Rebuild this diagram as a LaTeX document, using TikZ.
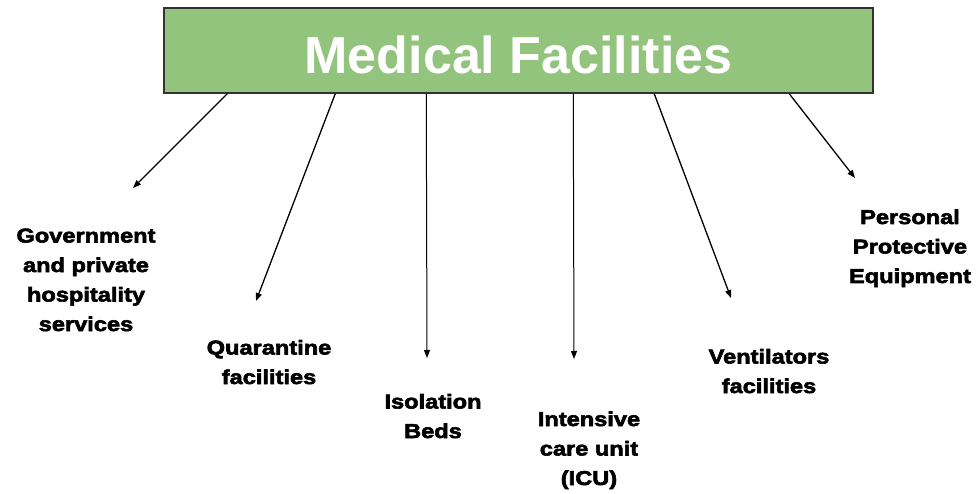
\documentclass[tikz,border=0pt]{standalone}
\usepackage{fontspec}
\setmainfont{Liberation Sans}
\newfontfamily\labelfont[FakeStretch=1.18,FakeBold=3]{Liberation Sans}
\usetikzlibrary{arrows.meta}
\definecolor{boxgreen}{HTML}{93C47D}
\begin{document}
\begin{tikzpicture}[x=1pt,y=-1pt,
titlenode/.style={draw=black!80, line width=1.5pt, fill=boxgreen, minimum width=709pt, minimum height=85pt, inner sep=0pt, text=white, text height=47pt, font=\fontsize{52}{60}\selectfont\bfseries},
textnode/.style={align=center, anchor=base, inner sep=0pt, font=\labelfont\bfseries\fontsize{20}{29.5}\selectfont},
arrowline/.style={-{Triangle[length=8pt,width=6pt]}, line width=1.3pt},
]
    \useasboundingbox (0,0) rectangle (979,494);
    \node[titlenode](title) at (518.5,50.5) {Medical Facilities};
    % labels (base = last line)
    \node[textnode](gov) at (86,331) {Government\\and private\\hospitality\\services};
    \node[textnode](quar) at (269,384) {Quarantine\\facilities};
    \node[textnode](iso) at (433,438) {Isolation\\Beds};
    \node[textnode](icu) at (589,485) {Intensive\\care unit\\(ICU)};
    \node[textnode](vent) at (769,393) {Ventilators\\facilities};
    \node[textnode](ppe) at (910,283) {Personal\\Protective\\Equipment};
    % arrow tips
    \coordinate (govtip) at (133,188);
    \coordinate (quartip) at (256,301);
    \coordinate (isotip) at (427,358);
    \coordinate (icutip) at (574,359);
    \coordinate (venttip) at (731,298);
    \coordinate (ppetip) at (855,178);
    \draw[arrowline] (title.south west) ++(64,0) -- (govtip);
    \draw[arrowline] (title.south west) ++(172,0) -- (quartip);
    \draw[arrowline, line width=1pt] (title.south west) ++(263,0) -- (isotip);
    \draw[arrowline, line width=1pt] (title.south west) ++(410,0) -- (icutip);
    \draw[arrowline] (title.south west) ++(491,0) -- (venttip);
    \draw[arrowline] (title.south west) ++(626,0) -- (ppetip);
\end{tikzpicture}
\end{document}
